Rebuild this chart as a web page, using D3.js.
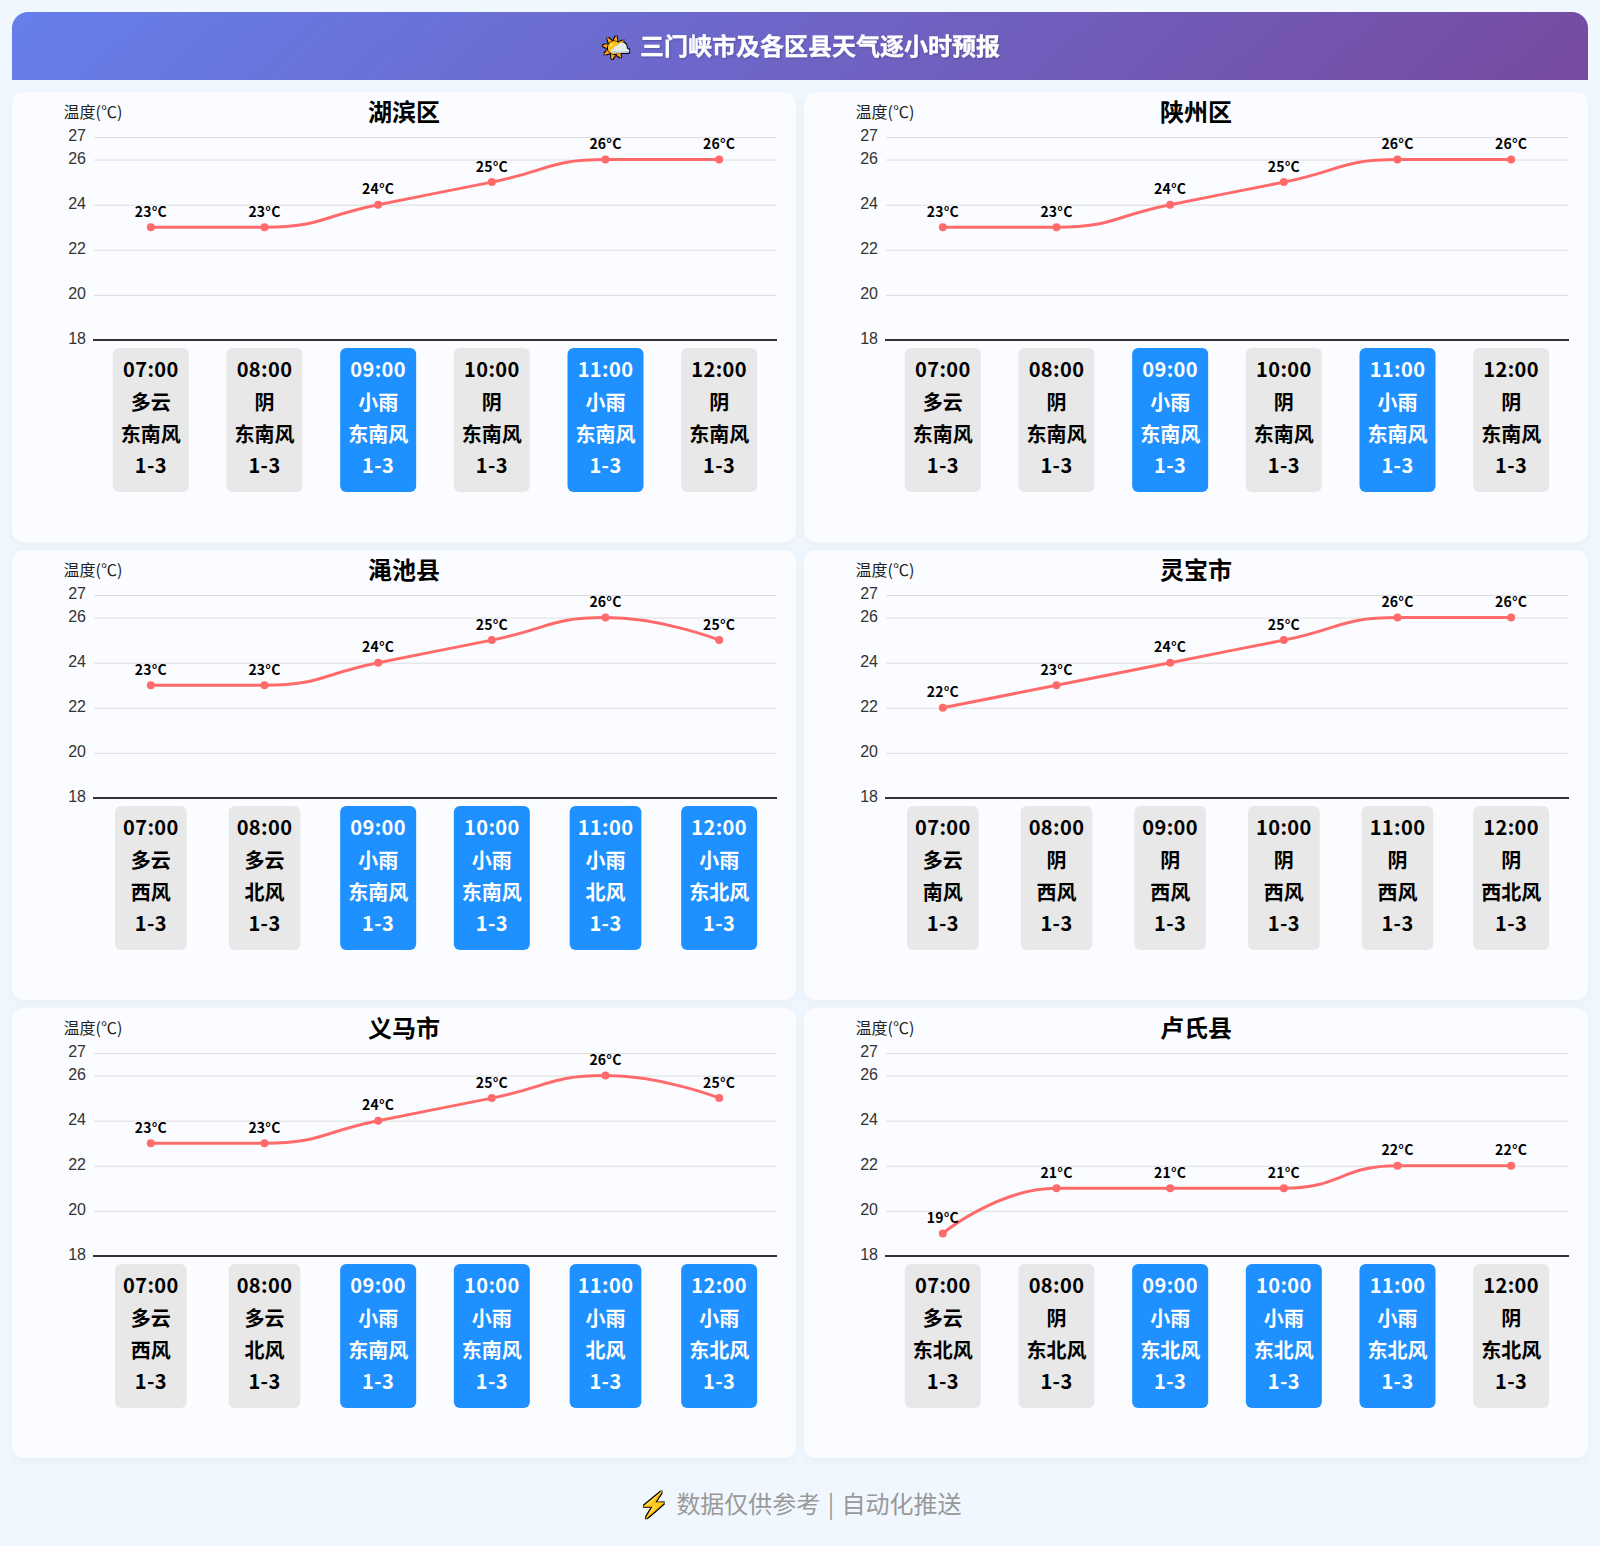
<!DOCTYPE html>
<html lang="zh-CN"><head><meta charset="utf-8">
<script src="https://cdn.jsdelivr.net/npm/d3@7/dist/d3.min.js"></script>
<style>
html,body{margin:0;padding:0;background:#f0f7ff;}
svg{display:block;font-family:"Noto Sans CJK SC","Noto Sans",sans-serif;}
</style></head><body>
<svg id="c" width="1600" height="1546"></svg>
<script>
const headerEmoji = "🌤️";
const headerTitle = "三门峡市及各区县天气逐小时预报";
const footerEmoji = "⚡";
const footerText = "数据仅供参考 | 自动化推送";
const yAxisName = "温度(℃)";
const hours = ["07:00","08:00","09:00","10:00","11:00","12:00"];
const yTicks = [18,20,22,24,26,27];
const cities = ["湖滨区","陕州区","渑池县","灵宝市","义马市","卢氏县"];
const temps = [
  [23,23,24,25,26,26],
  [23,23,24,25,26,26],
  [23,23,24,25,26,25],
  [22,23,24,25,26,26],
  [23,23,24,25,26,25],
  [19,21,21,21,22,22]
];
const weather = [
  ["多云","阴","小雨","阴","小雨","阴"],
  ["多云","阴","小雨","阴","小雨","阴"],
  ["多云","多云","小雨","小雨","小雨","小雨"],
  ["多云","阴","阴","阴","阴","阴"],
  ["多云","多云","小雨","小雨","小雨","小雨"],
  ["多云","阴","小雨","小雨","小雨","阴"]
];
const winds = [
  ["东南风","东南风","东南风","东南风","东南风","东南风"],
  ["东南风","东南风","东南风","东南风","东南风","东南风"],
  ["西风","北风","东南风","东南风","北风","东北风"],
  ["南风","西风","西风","西风","西风","西北风"],
  ["西风","北风","东南风","东南风","北风","东北风"],
  ["东北风","东北风","东北风","东北风","东北风","东北风"]
];
const windLevel = "1-3";

// Smooth curve with clamped control points (keeps segments inside their value range)
function clampedSmooth(ctx){
  let pts=[]; const s=0.5;
  const clamp=(v,a,b)=>Math.max(Math.min(v,Math.max(a,b)),Math.min(a,b));
  return {
    lineStart(){pts=[];},
    point(x,y){pts.push([+x,+y]);},
    lineEnd(){
      let c0x=pts[0][0],c0y=pts[0][1];
      ctx.moveTo(c0x,c0y);
      for(let k=1;k<pts.length;k++){
        const [x,y]=pts[k],[px,py]=pts[k-1];
        let c1x=x,c1y=y,nx0=x,ny0=y;
        if(k<pts.length-1){
          const [nx,ny]=pts[k+1];
          const lp=Math.hypot(x-px,y-py), ln=Math.hypot(nx-x,ny-y), r=ln/(ln+lp);
          nx0=clamp(x+(nx-px)*s*r,nx,x); ny0=clamp(y+(ny-py)*s*r,ny,y);
          let vx=nx0-x,vy=ny0-y;
          c1x=clamp(x-vx*lp/ln,px,x); c1y=clamp(y-vy*lp/ln,py,y);
          vx=x-c1x;vy=y-c1y;
          nx0=x+vx*ln/lp; ny0=y+vy*ln/lp;
        }
        ctx.bezierCurveTo(c0x,c0y,c1x,c1y,x,y);
        c0x=nx0;c0y=ny0;
      }
    }
  };
}

const svg = d3.select("#c");
const defs = svg.append("defs");
const g = defs.append("linearGradient").attr("id","hdr").attr("gradientUnits","userSpaceOnUse")
  .attr("x1",450).attr("y1",-350).attr("x2",1150).attr("y2",440);
g.append("stop").attr("offset",0).attr("stop-color","#667eea");
g.append("stop").attr("offset",1).attr("stop-color","#764ba2");
const sh = defs.append("filter").attr("id","sh").attr("x","-5%").attr("y","-5%").attr("width","110%").attr("height","110%");
sh.append("feDropShadow").attr("dx",0).attr("dy",2).attr("stdDeviation",4).attr("flood-color","#000").attr("flood-opacity",0.04);
const ts = defs.append("filter").attr("id","ts");
ts.append("feDropShadow").attr("dx",1).attr("dy",1).attr("stdDeviation",1).attr("flood-color","#000").attr("flood-opacity",0.2);
const ol = defs.append("filter").attr("id","outline").attr("x","-20%").attr("y","-20%").attr("width","140%").attr("height","140%");
ol.append("feMorphology").attr("in","SourceAlpha").attr("operator","dilate").attr("radius",1).attr("result","d");
ol.append("feFlood").attr("flood-color","#000").attr("result","k");
ol.append("feComposite").attr("in","k").attr("in2","d").attr("operator","in").attr("result","o");
const om = ol.append("feMerge");
om.append("feMergeNode").attr("in","o");
om.append("feMergeNode").attr("in","SourceGraphic");

// header
svg.append("path").attr("d","M12,80V28a16,16 0 0 1 16,-16H1572a16,16 0 0 1 16,16V80Z").attr("fill","url(#hdr)");
svg.append("text").attr("x",616).attr("y",45).attr("text-anchor","middle").attr("dominant-baseline","central")
  .attr("font-size",24).attr("filter","url(#outline)").text(headerEmoji);
svg.append("text").attr("x",820).attr("y",44).attr("text-anchor","middle").attr("dominant-baseline","central")
  .attr("font-size",24).attr("font-weight",700).attr("fill","#fff").attr("stroke","#fff").attr("stroke-width",0.3).attr("filter","url(#ts)").text(headerTitle);

const cardW = 784, cardH = 450, cols = [12,804], rows = [92,550,1008];
const x = d3.scaleBand().domain(hours).range([82,764]);
const y = d3.scaleLinear().domain([18,27]).range([248,45]);
const line = d3.line().x(d=>d.px).y(d=>y(d.t)).curve(clampedSmooth);

cities.forEach((city,i)=>{
  const p = svg.append("g").attr("transform",`translate(${cols[i%2]},${rows[Math.floor(i/2)]})`);
  p.append("rect").attr("width",cardW).attr("height",cardH).attr("rx",12).attr("fill","#fafcff").attr("filter","url(#sh)");
  p.append("text").attr("x",392).attr("y",18.5).attr("text-anchor","middle").attr("dominant-baseline","central")
    .attr("font-size",24).attr("font-weight",700).attr("fill","#000").text(city);
  p.append("text").attr("x",81).attr("y",19).attr("text-anchor","middle").attr("dominant-baseline","central")
    .attr("font-size",16).attr("fill","#222").text(yAxisName);
  const ax = p.append("g").attr("transform","translate(82,0)")
    .call(d3.axisLeft(y).tickValues(yTicks).tickSize(0).tickPadding(8));
  ax.select(".domain").remove();
  ax.selectAll("text").attr("font-size",16).attr("fill","#333").attr("font-family","inherit").attr("dy",null).attr("dominant-baseline","central").attr("y",-1.8);
  p.append("g").selectAll("line").data(yTicks.slice(1)).join("line")
    .attr("x1",82).attr("x2",764).attr("y1",d=>y(d)+.5).attr("y2",d=>y(d)+.5).attr("stroke","#ddd");
  p.append("line").attr("x1",81).attr("x2",765).attr("y1",y(18)).attr("y2",y(18)).attr("stroke","#333").attr("stroke-width",2);
  const pts = hours.map((h,j)=>({h,t:temps[i][j],px:x(h)+x.bandwidth()/2,w:weather[i][j],wind:winds[i][j]}));
  p.append("path").attr("d",line(pts)).attr("fill","none").attr("stroke","#ff6b6b").attr("stroke-width",3);
  p.append("g").selectAll("circle").data(pts).join("circle").attr("cx",d=>d.px).attr("cy",d=>y(d.t)).attr("r",4).attr("fill","#ff6b6b");
  p.append("g").selectAll("text").data(pts).join("text").attr("x",d=>d.px).attr("y",d=>y(d.t)-16.5)
    .attr("text-anchor","middle").attr("dominant-baseline","central").attr("font-size",14).attr("font-weight",700).attr("fill","#000")
    .attr("letter-spacing",0.2).text(d=>d.t+"°C");
  const boxes = p.append("g").selectAll("g").data(pts).join("g").attr("transform",d=>`translate(${d.px},0)`);
  boxes.append("rect").attr("y",256).attr("height",144).attr("rx",6)
    .attr("fill",d=>d.w==="小雨"?"#1e90ff":"#e8e8e8");
  boxes.each(function(d){
    const b = d3.select(this);
    let maxW = 0;
    [d.h,d.w,d.wind,windLevel].forEach((s,k)=>{
      const t = b.append("text").attr("y",276+k*32+((k===1||k===2)?1:0)).attr("text-anchor","middle").attr("dominant-baseline","central")
        .attr("font-size",20).attr("font-weight",700).attr("fill",d.w==="小雨"?"#fff":"#000")
        .attr("letter-spacing",(k===0||k===3)?0.4:0).text(s);
      maxW = Math.max(maxW,t.node().getComputedTextLength());
    });
    const w = maxW+16;
    b.select("rect").attr("x",-w/2).attr("width",w);
  });
});
svg.append("text").attr("x",654).attr("y",1502).attr("text-anchor","middle").attr("dominant-baseline","central")
  .attr("font-size",24).attr("fill","#fbbf24").attr("filter","url(#outline)").text(footerEmoji);
svg.append("text").attr("x",819).attr("y",1502).attr("text-anchor","middle").attr("dominant-baseline","central")
  .attr("font-size",24).attr("fill","#999").attr("word-spacing",2).text(footerText);
</script></body></html>
